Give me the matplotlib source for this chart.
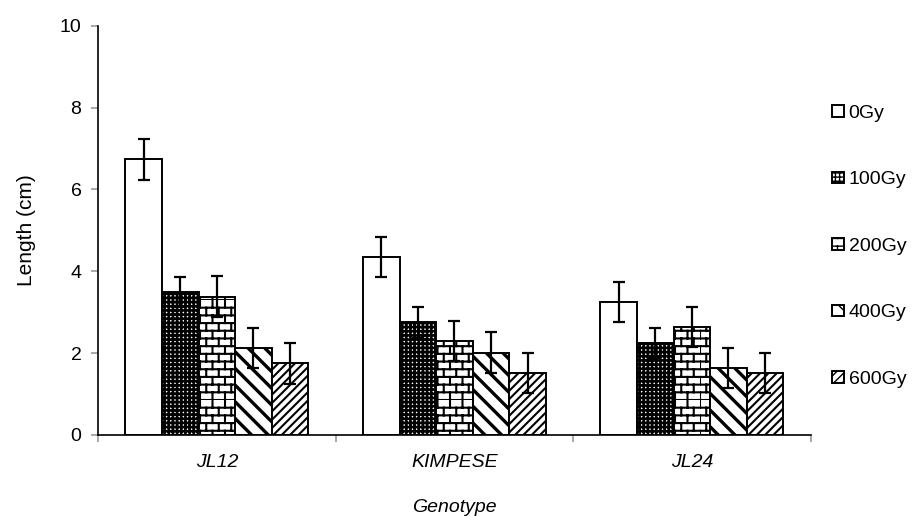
import numpy as np
import matplotlib
matplotlib.use("Agg")
import matplotlib.pyplot as plt
import matplotlib.hatch as mhatch
from matplotlib.path import Path

plt.rcParams['font.family'] = ['Liberation Sans', 'DejaVu Sans']

genotypes = ['JL12', 'KIMPESE', 'JL24']
doses = ['0Gy', '100Gy', '200Gy', '400Gy', '600Gy']
means = {
    '0Gy':   [6.74, 4.35, 3.25],
    '100Gy': [3.50, 2.75, 2.25],
    '200Gy': [3.38, 2.29, 2.63],
    '400Gy': [2.13, 2.01, 1.63],
    '600Gy': [1.75, 1.51, 1.51],
}
errors = {
    '0Gy':   [0.50, 0.50, 0.50],
    '100Gy': [0.36, 0.37, 0.37],
    '200Gy': [0.50, 0.49, 0.49],
    '400Gy': [0.49, 0.50, 0.49],
    '600Gy': [0.50, 0.49, 0.49],
}

# brick hatch: swap in a custom path for one (otherwise unused) hatch string
BRICK = '-|-'
_orig_get_path = mhatch.get_path


def _brick_path(rows=13, cols=8):
    verts, codes = [], []
    for r in range(rows):
        y0, y1 = r / rows, (r + 1) / rows
        verts += [(0, y0), (1, y0)]
        codes += [Path.MOVETO, Path.LINETO]
        off = 0.5 / cols if r % 2 else 0.0
        for c in range(cols):
            x = c / cols + off
            verts += [(x, y0), (x, y1)]
            codes += [Path.MOVETO, Path.LINETO]
    return Path(np.array(verts, float), codes)


def _get_path(pattern, density=6):
    if pattern == BRICK:
        return _brick_path()
    return _orig_get_path(pattern, density)


mhatch.get_path = _get_path

styles = {
    '0Gy':   dict(hatch=None, hlw=1.0),
    '100Gy': dict(hatch='++++', hlw=1.9),
    '200Gy': dict(hatch=BRICK, hlw=1.5),
    '400Gy': dict(hatch='\\\\', hlw=2.4),
    '600Gy': dict(hatch='////', hlw=1.5),
}

fs = 14

fig = plt.figure(figsize=(9.17, 5.16), dpi=100)
ax = fig.add_axes([0.107, 0.157, 0.777, 0.793])

x = np.arange(len(genotypes))
width = 0.154
for i, d in enumerate(doses):
    pos = x + (i - 2) * width
    with plt.rc_context({'hatch.linewidth': styles[d]['hlw']}):
        ax.bar(pos, means[d], width, color='white', edgecolor='black',
               linewidth=1.4, hatch=styles[d]['hatch'], label=d, zorder=2)
    ax.errorbar(pos, means[d], yerr=errors[d], fmt='none', ecolor='black',
                elinewidth=1.6, capsize=4.5, capthick=1.6, zorder=3)

ax.set_xlim(-0.5, 2.5)
ax.set_ylim(0, 10)
ax.set_yticks([0, 2, 4, 6, 8, 10])
ax.set_xticks([-0.5, 0.5, 1.5, 2.5])
ax.set_xticklabels([])
ax.set_xticks(x, minor=True)
ax.set_xticklabels(genotypes, minor=True, fontstyle='italic', fontsize=fs)
ax.tick_params(axis='x', which='minor', length=0, pad=14)
ax.tick_params(axis='both', which='major', length=5, color='#999999', width=1.2,
               labelsize=fs, pad=7)
for s in ['top', 'right']:
    ax.spines[s].set_visible(False)
for s in ['left', 'bottom']:
    ax.spines[s].set_linewidth(1.2)

ax.set_ylabel('Length (cm)', fontsize=fs + 1, labelpad=17)
ax.set_xlabel('Genotype', fontsize=fs, fontstyle='italic', labelpad=20)

leg = ax.legend(loc='upper left', bbox_to_anchor=(0.907, 0.797),
                bbox_transform=fig.transFigure, frameon=False,
                fontsize=fs, handlelength=0.62, handleheight=0.55,
                handletextpad=0.25, labelspacing=2.55, borderaxespad=0,
                borderpad=0)

fig.savefig('out.png', dpi=100)
